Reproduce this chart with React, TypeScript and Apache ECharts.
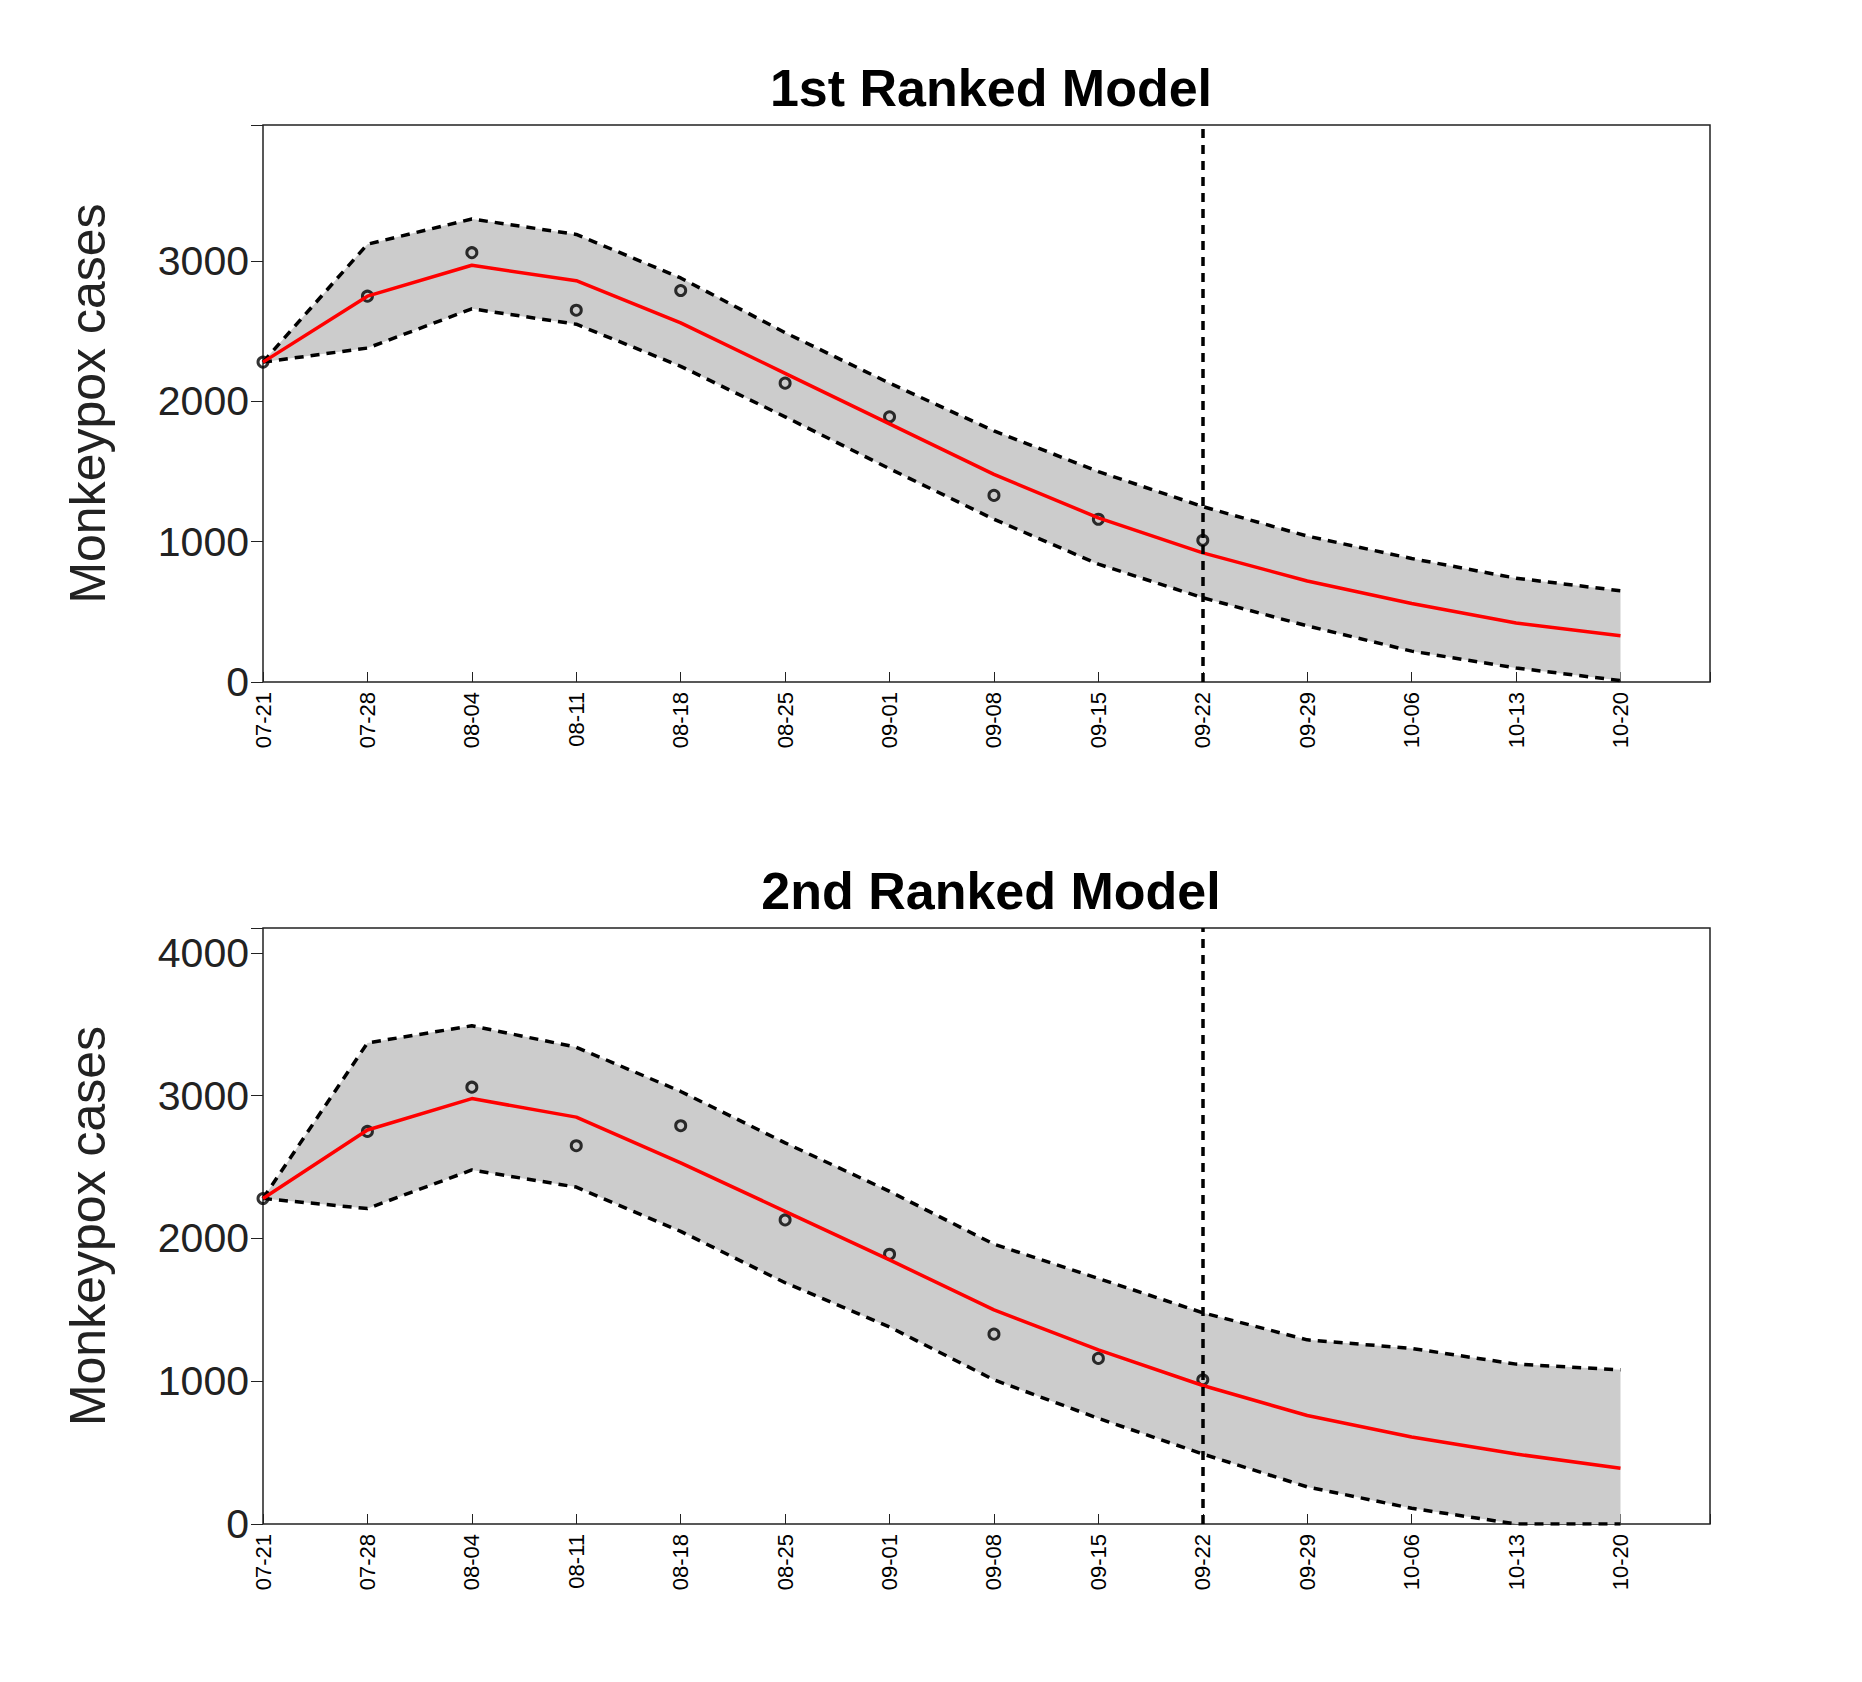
import React, { useEffect, useRef } from 'react';
import * as echarts from 'echarts';

const days = [0, 7, 14, 21, 28, 35, 42, 49, 56, 63, 70, 77, 84, 91];
const dateLabels = ['07-21', '07-28', '08-04', '08-11', '08-18', '08-25', '09-01', '09-08', '09-15', '09-22', '09-29', '10-06', '10-13', '10-20'];
const observed = [2280, 2750, 3060, 2650, 2790, 2130, 1890, 1330, 1160, 1010];

const median1 = [2280, 2750, 2970, 2860, 2560, 2200, 1840, 1480, 1170, 920, 720, 560, 420, 330];
const upper1 = [2280, 3120, 3300, 3190, 2880, 2490, 2130, 1790, 1500, 1250, 1040, 880, 740, 650];
const lower1 = [2280, 2380, 2660, 2550, 2250, 1890, 1520, 1160, 840, 600, 400, 220, 100, 10];

const median2 = [2280, 2760, 2980, 2850, 2530, 2190, 1850, 1500, 1220, 970, 760, 610, 490, 390];
const upper2 = [2280, 3370, 3490, 3340, 3030, 2670, 2330, 1960, 1720, 1480, 1290, 1230, 1120, 1080];
const lower2 = [2280, 2210, 2480, 2360, 2050, 1690, 1380, 1010, 740, 490, 260, 110, 0, 0];

const forecastDay = 63;

const pts = (vals: number[]) => vals.map((v, i) => [days[i], v]);

const panels = [
  { title: '1st Ranked Model', top: 125, height: 557, max: 3970, median: median1, upper: upper1, lower: lower1 },
  { title: '2nd Ranked Model', top: 928, height: 596, max: 4175, median: median2, upper: upper2, lower: lower2 },
];

const App: React.FC = () => {
  const chartRef = useRef<HTMLDivElement>(null);

  useEffect(() => {
    document.body.style.margin = '0';
    if (!chartRef.current) return;
    const chart = echarts.init(chartRef.current, undefined, { renderer: 'svg' });
    const font = 'Helvetica, Arial, "Liberation Sans", sans-serif';
    const dash = { color: '#000', width: 3.5, type: [9, 7] as number[] };

    const grid: any[] = [];
    const xAxis: any[] = [];
    const yAxis: any[] = [];
    const title: any[] = [];
    const series: any[] = [];

    panels.forEach((p, k) => {
      grid.push({ left: 263, width: 1447, top: p.top, height: p.height, show: true, borderColor: '#222', borderWidth: 1.5 });
      title.push({
        text: p.title, left: 986, top: p.top - 68, textAlign: 'center',
        textStyle: { fontFamily: font, fontSize: 52, fontWeight: 'bold', color: '#000' },
      });
      xAxis.push({
        type: 'value', gridIndex: k, min: 0, max: 97, interval: 7,
        axisLine: { show: false }, splitLine: { show: false },
        axisTick: { inside: true, length: 10, lineStyle: { color: '#222' } },
        axisLabel: {
          rotate: 90, fontSize: 22, color: '#000', fontFamily: font, margin: 10,
          formatter: (v: number) => dateLabels[days.indexOf(v)] ?? '',
        },
      });
      xAxis.push({
        type: 'value', gridIndex: k, position: 'top', min: 0, max: 97, interval: 7,
        axisLine: { show: false }, splitLine: { show: false }, axisLabel: { show: false },
        axisTick: { show: false },
      });
      yAxis.push({
        type: 'value', gridIndex: k, min: 0, max: p.max, interval: 1000,
        name: 'Monkeypox cases', nameLocation: 'middle', nameGap: 150,
        nameTextStyle: { fontSize: 50, color: '#222', fontFamily: font },
        axisLine: { show: false }, splitLine: { show: false },
        axisTick: { show: false },
        axisLabel: {
          fontSize: 41, color: '#222', fontFamily: font, margin: 14,
          formatter: (v: number) => (v % 1000 === 0 ? String(v) : ''),
        },
      });
      yAxis.push({
        type: 'value', gridIndex: k, position: 'right', min: 0, max: p.max, interval: 1000,
        axisLine: { show: false }, splitLine: { show: false }, axisLabel: { show: false },
        axisTick: { inside: true, length: 12, lineStyle: { color: '#222' } },
      });
      const xi = k * 2;
      const yi = k * 2;
      const up = p.upper;
      const lo = p.lower;
      series.push({
        type: 'custom', xAxisIndex: xi, yAxisIndex: yi, silent: true,
        data: [[0, 0]],
        renderItem: (_params: any, api: any) => {
          const ring = [
            ...days.map((d, i) => api.coord([d, up[i]])),
            ...days.map((d, i) => api.coord([d, lo[i]])).reverse(),
          ];
          return { type: 'polygon', shape: { points: ring }, style: { fill: '#cccccc' } };
        },
      });
      [up, lo].forEach((b) => series.push({
        type: 'line', xAxisIndex: xi, yAxisIndex: yi, data: pts(b), symbol: 'none', lineStyle: dash,
      }));
      series.push({
        type: 'line', xAxisIndex: xi, yAxisIndex: yi, data: pts(p.median), symbol: 'none',
        lineStyle: { color: '#ff0000', width: 3.5 },
        markLine: {
          silent: true, symbol: 'none', label: { show: false },
          lineStyle: dash,
          data: [{ xAxis: forecastDay }],
        },
      });
      series.push({
        type: 'scatter', xAxisIndex: xi, yAxisIndex: yi, data: pts(observed),
        symbol: 'circle', symbolSize: 10,
        itemStyle: { color: 'rgba(0,0,0,0)', borderColor: '#000', borderWidth: 3 },
      });
    });

    chart.setOption({ animation: false, backgroundColor: '#fff', title, grid, xAxis, yAxis, series });
    return () => chart.dispose();
  }, []);

  return <div ref={chartRef} style={{ width: 1862, height: 1682 }} />;
};

export default App;
